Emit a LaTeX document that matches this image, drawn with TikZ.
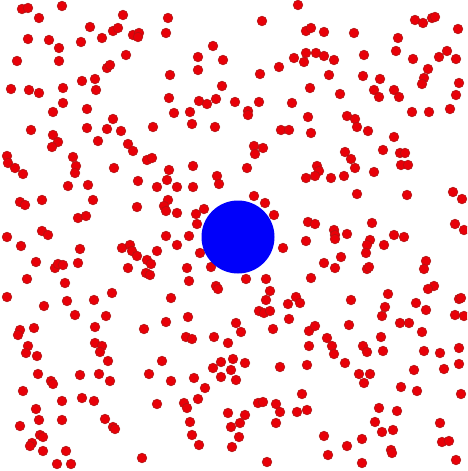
\documentclass[tikz,border=0pt]{standalone}
\definecolor{dotfill}{RGB}{232,0,8}
\definecolor{dotedge}{RGB}{175,20,20}
\definecolor{bigblue}{RGB}{0,0,250}
\tikzset{
  reddot/.style={fill=dotfill,draw=dotedge,line width=0.6pt},
  bluedisc/.style={fill=bigblue,draw=none}
}
\begin{document}
\begin{tikzpicture}[x=1pt,y=-1pt]
\useasboundingbox (0,0) rectangle (467,471);
\fill[white] (0,0) rectangle (467,471);
\begin{scope}
\clip (0,0) rectangle (467,471);
\foreach \x/\y in {
22/9,28/8,62/6,39/18,123/15,90/27,113/31,118/28,133/35,139/33,138/37,28/39,49/40,59/48,81/42,102/38,126/55,17/61,59/61,107/68,110/65,82/81,95/79,96/90,11/89,29/90,39/93,63/88,63/103,53/112,87/109,113/119,
298/5,168/18,166/33,262/21,306/31,311/28,213/46,198/57,223/60,198/70,170/75,222/86,260/74,279/67,294/58,304/62,306/53,310/88,169/98,199/101,207/104,216/99,235/102,259/102,292/103,174/113,190/112,248/111,248/115,308/117,
324/32,354/33,415/20,423/23,432/18,435/17,458/29,398/38,396/51,316/53,324/56,334/60,364/55,413/59,439/57,447/51,456/59,428/69,424/78,422/84,329/75,363/76,380/79,459/83,340/94,374/90,379/97,394/90,399/97,456/95,347/116,355/119,412/112,429/112,450/109,
31/130,53/135,58/142,52/147,87/128,107/129,121/131,153/127,98/141,128/144,133/151,147/160,152/158,7/156,8/163,15/168,23/174,73/157,76/166,75/173,114/168,138/181,68/186,88/185,157/187,20/202,25/205,42/200,93/200,137/207,78/218,86/216,7/237,42/231,48/235,
192/124,215/127,281/130,289/130,311/133,254/146,263/148,255/154,169/170,193/166,167/180,177/187,193/187,217/176,219/184,247/168,306/178,168/200,164/206,166/211,177/213,196/214,204/209,197/224,254/196,265/203,274/215,308/222,166/236,189/236,
357/127,368/131,394/137,383/150,345/152,351/159,355/168,400/153,405/153,401/165,408/165,374/172,317/166,319/171,315/176,331/178,344/176,357/194,407/195,453/192,462/199,315/224,334/230,335/235,347/234,372/223,394/235,404/237,455/224,464/230,
21/246,80/249,122/248,130/245,132/251,137/256,147/260,151/264,157/251,36/262,55/268,58/264,63/265,78/263,128/268,146/273,150/275,27/279,65/283,7/297,67/301,94/300,112/293,44/306,75/315,106/316,20/330,18/335,34/328,95/327,144/329,28/346,26/353,37/356,95/343,102/346,100/352,
177/245,200/253,187/268,211/267,283/248,306/241,189/281,246/279,266/279,216/286,218/289,311/278,270/291,171/298,266/300,296/297,300/303,288/304,259/311,264/313,270/311,188/317,289/319,166/322,236/323,241/332,273/329,309/331,186/337,192/339,214/337,228/343,309/346,
335/239,370/240,367/245,384/245,366/253,341/257,324/263,335/268,367/269,369/267,426/261,424/269,388/294,434/286,428/289,351/300,416/303,459/299,461/298,385/307,382/316,426/310,455/315,464/316,315/326,349/325,400/323,409/323,422/332,381/337,327/338,332/346,334/354,363/346,367/352,383/351,424/351,440/353,459/348,
459/364,359/374,370/374,364/383,414/370,444/369,401/387,417/391,461/394,379/408,397/411,375/422,382/432,393/430,440/423,362/439,391/450,392/453,442/442,449/441,347/446,362/463,456/460,
108/361,162/361,213/368,221/362,233/359,231/370,245/363,221/377,236/380,280/367,307/365,345/363,
38/374,51/381,53/384,80/375,99/374,110/381,149/374,171/381,194/378,205/388,198/399,
23/391,62/401,82/398,94/401,157/404,184/403,187/408,258/403,263/402,276/404,280/412,302/394,297/412,307/410,
36/409,39/420,62/420,20/426,105/419,113/427,115/429,228/413,245/415,240/423,190/422,231/427,276/423,
192/435,239/437,40/435,43/437,32/443,30/446,43/451,66/451,199/445,232/447,324/436,328/455,142/458,57/464,71/464,267/462
}{
  \path[reddot] (\x,\y) circle[radius=4.8];
}
\end{scope}
\node[bluedisc,circle,minimum size=73pt,inner sep=0pt] (sun) at (238,237) {};
\end{tikzpicture}
\end{document}
